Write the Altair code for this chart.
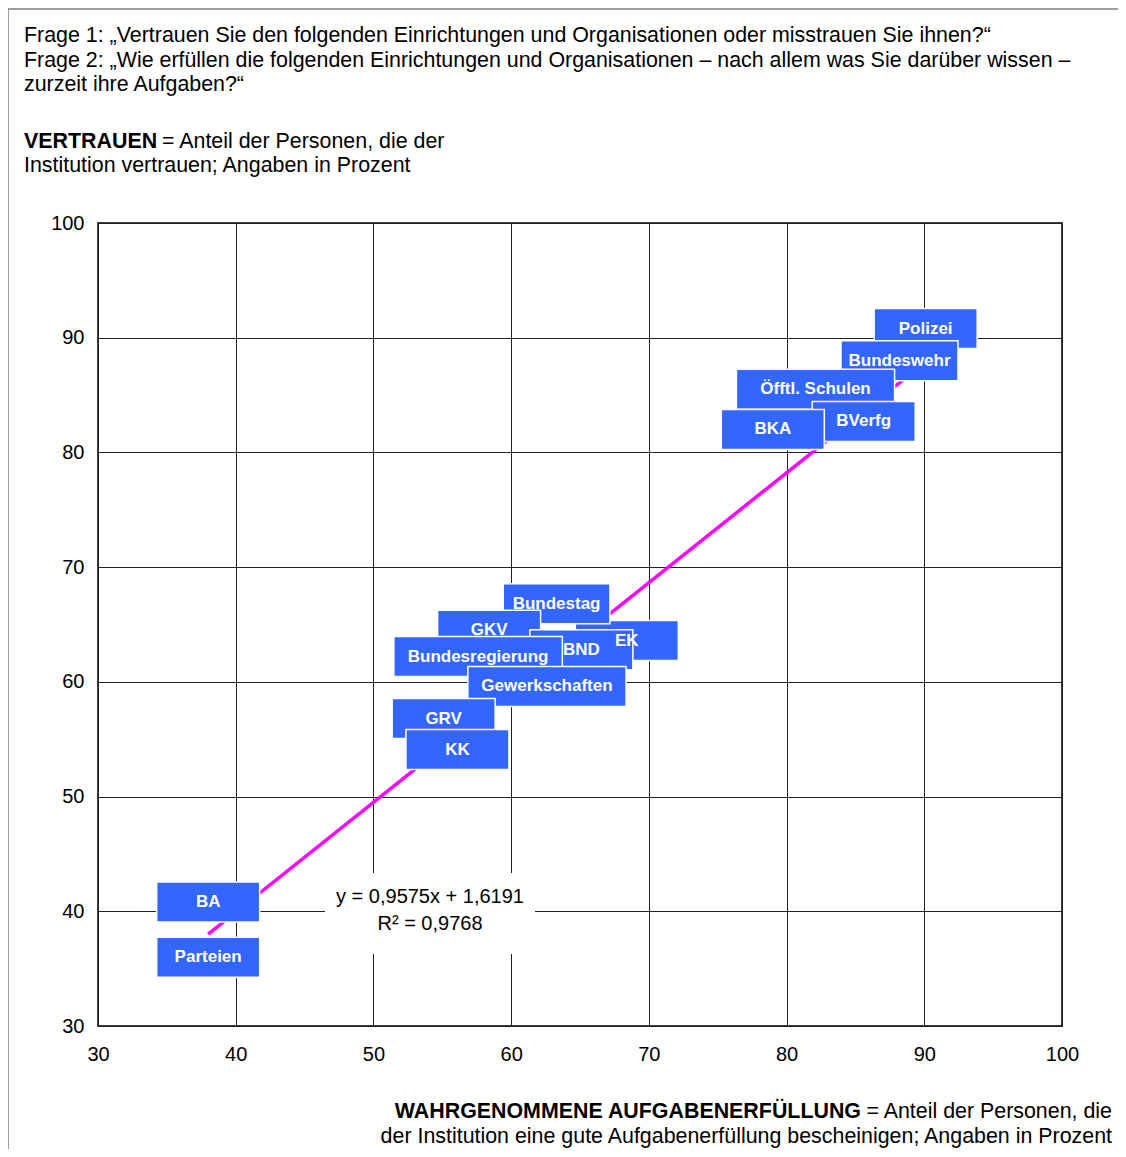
import altair as alt
import pandas as pd

# ---- data ----
labels = ["Polizei", "Bundeswehr", "Öfftl. Schulen", "BVerfg", "BKA", "EK", "Bundestag",
          "GKV", "BND", "Bundesregierung", "Gewerkschaften", "GRV", "KK", "BA", "Parteien"]
aufgaben = [90.1, 88.2, 82.1, 85.6, 79.0, 68.4, 63.3, 58.4, 65.1, 57.6, 62.6, 55.1, 56.1, 38.0, 38.0]
vertrauen = [90.8, 88.0, 85.5, 82.7, 82.0, 63.6, 66.8, 64.5, 62.8, 62.2, 59.6, 56.8, 54.1, 40.8, 36.0]
slope, intercept, r2 = 0.9575, 1.6191, 0.9768
axis_ticks = [30, 40, 50, 60, 70, 80, 90, 100]

title_lines = [
    "Frage 1: „Vertrauen Sie den folgenden Einrichtungen und Organisationen oder misstrauen Sie ihnen?“",
    "Frage 2: „Wie erfüllen die folgenden Einrichtungen und Organisationen – nach allem was Sie darüber wissen –",
    "zurzeit ihre Aufgaben?“",
]
y_title_bold = "VERTRAUEN"
y_title_rest = ["= Anteil der Personen, die der", "Institution vertrauen; Angaben in Prozent"]
x_title_bold = "WAHRGENOMMENE AUFGABENERFÜLLUNG"
x_title_rest = ["= Anteil der Personen, die",
                "der Institution eine gute Aufgabenerfüllung bescheinigen; Angaben in Prozent"]

# ---- layout / style ----
W, H = 964, 803
DMIN, DMAX = 30, 100
PXX = W / (DMAX - DMIN)
PXY = H / (DMAX - DMIN)
FONT = "Liberation Sans, Arial, sans-serif"
BLUE = "#3366FF"
TFS = 21.4

df = pd.DataFrame({"label": labels, "x": aufgaben, "y": vertrauen})
df["order"] = range(len(df))

xs = alt.Scale(domain=[DMIN, DMAX], nice=False, zero=False)
ys = alt.Scale(domain=[DMIN, DMAX], nice=False, zero=False)
common_ax = dict(values=axis_ticks, grid=True, gridColor="#222222", gridWidth=1, ticks=False,
                 domain=False, labelFontSize=20, labelFont=FONT, labelColor="black",
                 labelFlush=False, labelOverlap=False, title=None, format="d")
xax = alt.Axis(labelPadding=18, **common_ax)
yax = alt.Axis(labelPadding=14, **common_ax)

one = pd.DataFrame({"k": [0]})

# frame around the whole figure
frame = alt.Chart(one).mark_rect(filled=False, stroke="#7f7f7f", strokeWidth=1.5).encode(
    x=alt.value(-90), x2=alt.value(1400), y=alt.value(-214), y2=alt.value(1400))

# trend line over the data range
trend_df = pd.DataFrame({"x": [min(aufgaben), max(aufgaben)]})
trend = alt.Chart(trend_df).transform_calculate(
    yt=f"{slope} * datum.x + {intercept}"
).mark_line(color="#FF00FF", strokeWidth=3.5).encode(
    x=alt.X("x:Q", scale=xs, axis=xax),
    y=alt.Y("yt:Q", scale=ys, axis=yax),
)

# equation box
eq_bg = alt.Chart(one).mark_rect(fill="white").encode(
    x=alt.value(227), x2=alt.value(437), y=alt.value(650), y2=alt.value(731))
eq1 = alt.Chart(one).mark_text(font=FONT, fontSize=20, color="black", align="center",
                               baseline="middle").encode(
    x=alt.value(332), y=alt.value(674),
    text=alt.value(f"y = {slope:.4f}x + {intercept:.4f}".replace(".", ",")))
eq2 = alt.Chart(one).mark_text(font=FONT, fontSize=20, color="black", align="center",
                               baseline="middle").encode(
    x=alt.value(332), y=alt.value(701),
    text=alt.value(f"R² = {r2:.4f}".replace(".", ",")))

layers = [frame, trend, eq_bg, eq1, eq2]


def label_base(i):
    return alt.Chart(df).transform_filter(f"datum.order == {i}").transform_calculate(
        w="max(103, 10.3 * length(datum.label) + 14)",
    ).transform_calculate(
        x1=f"datum.x - datum.w / 2 / {PXX}",
        x2=f"datum.x + datum.w / 2 / {PXX}",
        y1=f"datum.y - 20 / {PXY}",
        y2=f"datum.y + 20 / {PXY}",
    )


def label_box(i):
    return label_base(i).mark_rect(fill=BLUE, stroke="white", strokeWidth=1.5).encode(
        x=alt.X("x1:Q", scale=xs, axis=xax), x2="x2:Q",
        y=alt.Y("y1:Q", scale=ys, axis=yax), y2="y2:Q",
    )


def label_text(i):
    return label_base(i).mark_text(font=FONT, fontSize=17, fontWeight="bold", color="white",
                                   align="center", baseline="middle").encode(
        x=alt.X("x:Q", scale=xs, axis=xax),
        y=alt.Y("y:Q", scale=ys, axis=yax),
        text="label:N",
    )


# stacking: each label box covers the ones before it; the EK text stays readable
ek = labels.index("EK")
bnd = labels.index("BND")
for i in range(len(labels)):
    layers.append(label_box(i))
    if i != ek:
        layers.append(label_text(i))
    if i == bnd:
        layers.append(label_text(ek))


def txt_at(s, x, y, align="left", bold=False, size=TFS):
    return alt.Chart(one).mark_text(font=FONT, fontSize=size, color="black", align=align,
                                    baseline="middle",
                                    fontWeight="bold" if bold else "normal").encode(
        x=alt.value(x), y=alt.value(y), text=alt.value(s))


for s, yy in zip(title_lines, [-187, -162, -138]):
    layers.append(txt_at(s, -74, yy))
layers.append(txt_at(y_title_bold, -74, -81, bold=True))
layers.append(txt_at(y_title_rest[0], 64, -81))
layers.append(txt_at(y_title_rest[1], -74, -57))
layers.append(txt_at(x_title_bold, 763, 889, align="right", bold=True))
layers.append(txt_at(x_title_rest[0], 1014, 889, align="right"))
layers.append(txt_at(x_title_rest[1], 1014, 914, align="right"))

chart = alt.layer(*layers).properties(
    width=W, height=H,
    autosize=alt.AutoSizeParams(type="none"),
    padding={"left": 90, "top": 215, "right": 56, "bottom": 123},
).configure_view(stroke="black", strokeWidth=1.5)

chart.save("out.html", embed_options={"renderer": "svg", "actions": False})
